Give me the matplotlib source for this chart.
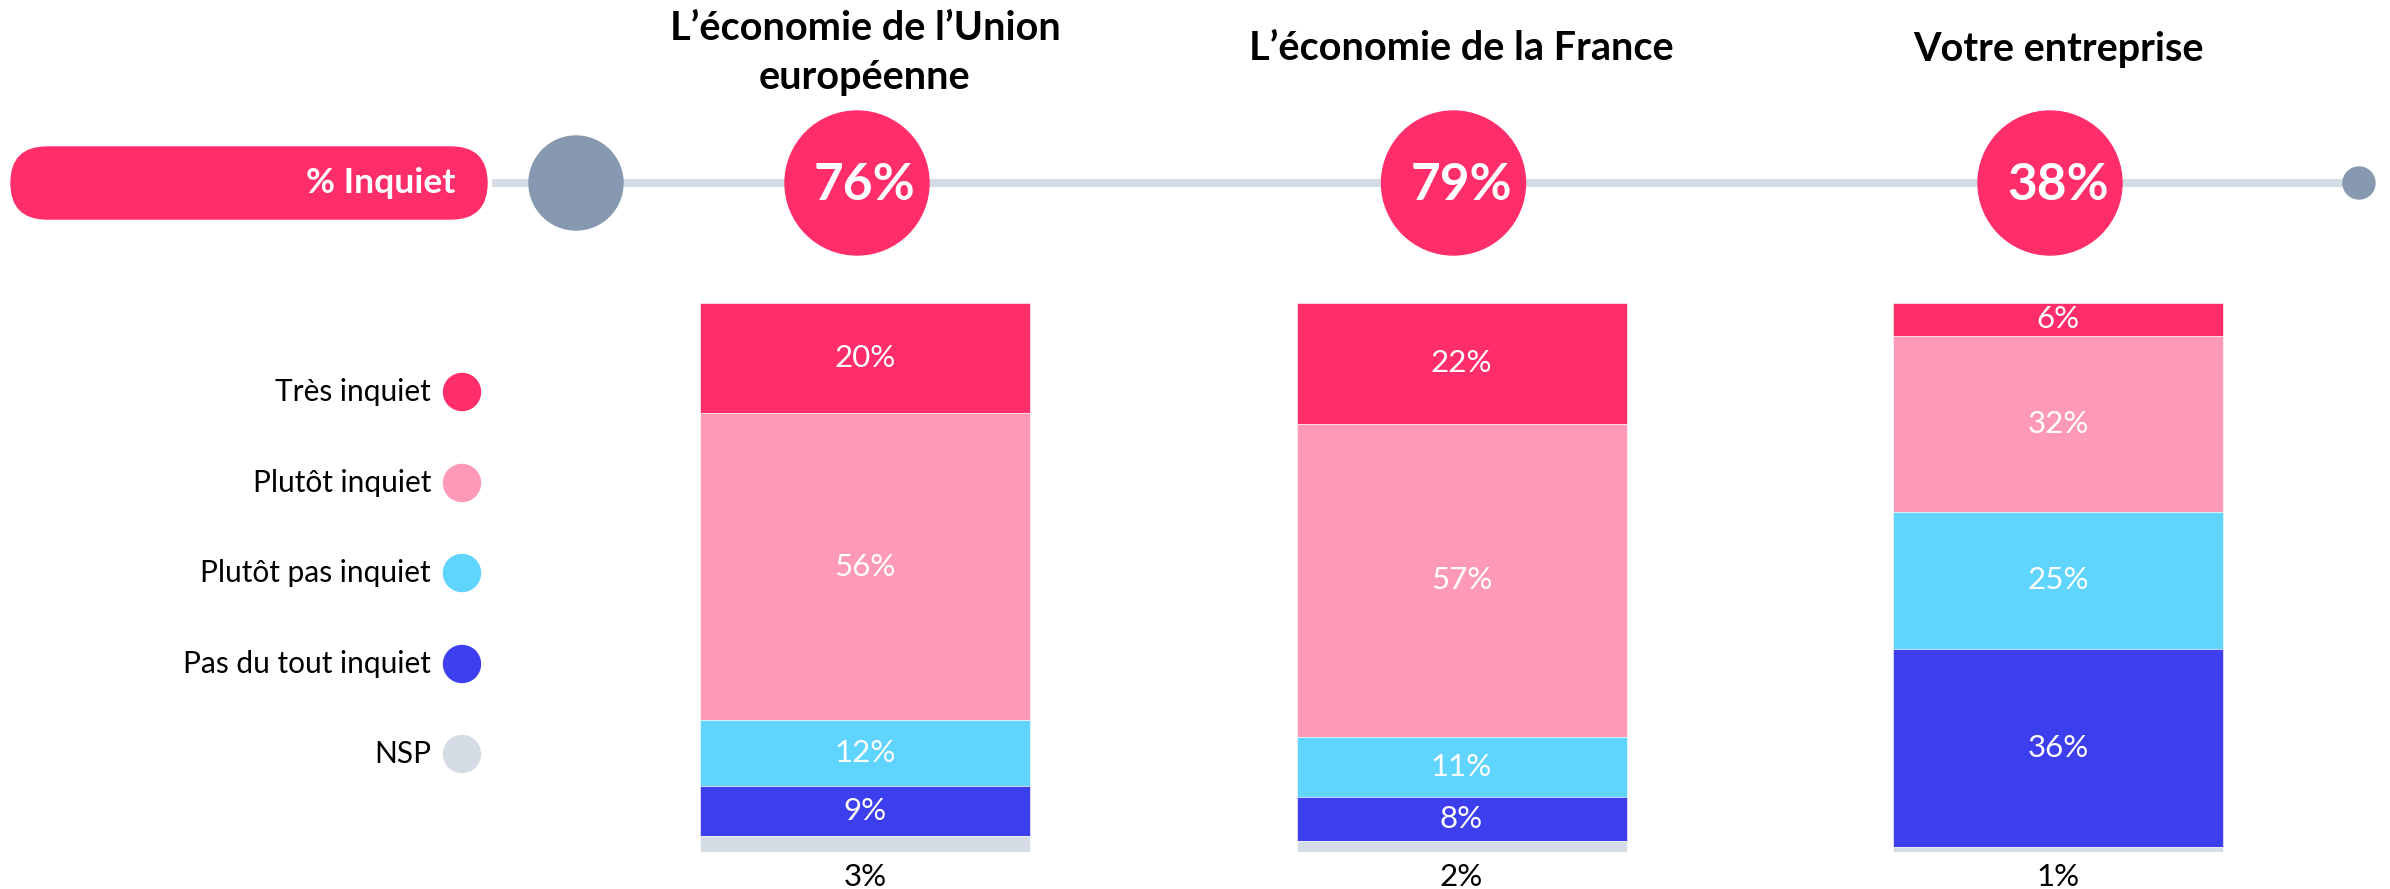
import matplotlib
matplotlib.use("Agg")
import matplotlib.pyplot as plt
from matplotlib.patches import Circle, FancyBboxPatch
import numpy as np

plt.rcParams['font.family'] = ['Lato', 'DejaVu Sans']

# ---- data ----
categories = ["L’économie de l’Union\neuropéenne", "L’économie de la France", "Votre entreprise"]
series_names = ["Très inquiet", "Plutôt inquiet", "Plutôt pas inquiet", "Pas du tout inquiet", "NSP"]
tres_inquiet = [20, 22, 6]
plutot_inquiet = [56, 57, 32]
plutot_pas_inquiet = [12, 11, 25]
pas_du_tout_inquiet = [9, 8, 36]
nsp = [3, 2, 1]
pct_inquiet = [76, 79, 38]
summary_label = "% Inquiet"

# ---- style ----
colors = ["#FF2E6B", "#FF9AB6", "#5FD4FF", "#3D3FEE", "#D5DCE6"]
W, H = 2390, 889
fig = plt.figure(figsize=(W / 100, H / 100), dpi=100)

# bars axes (y in percent, inverted so stacking goes top-down)
ax = fig.add_axes([0, 1 - 852 / H, 1, 549 / H])
step = 596.5
x0 = -865 / step
ax.set_xlim(x0, x0 + W / step)
ax.set_ylim(100, 0)
ax.axis('off')

xs = np.arange(len(categories))
series = [tres_inquiet, plutot_inquiet, plutot_pas_inquiet, pas_du_tout_inquiet, nsp]
bottom = np.zeros(len(categories))
for k, (vals, col) in enumerate(zip(series, colors)):
    vals = np.array(vals, dtype=float)
    ax.bar(xs, vals, bottom=bottom, width=330 / step, color=col, edgecolor='white',
           linewidth=0.4, zorder=2)
    for i, v in enumerate(vals):
        if k < 4:
            ax.text(xs[i], bottom[i] + v / 2, f"{int(v)}%", ha='center', va='center',
                    color='white', fontsize=22.5, zorder=3)
        else:
            ax.annotate(f"{int(v)}%", xy=(xs[i], bottom[i] + v), xytext=(0, -18),
                        textcoords='offset points', ha='center', va='center',
                        color='black', fontsize=22.5, annotation_clip=False)
    bottom += vals

# overlay axes in pixel coordinates
ov = fig.add_axes([0, 0, 1, 1], zorder=5)
ov.set_xlim(0, W)
ov.set_ylim(H, 0)
ov.axis('off')

line_y = 183
ov.plot([492, 2358], [line_y, line_y], color="#D6DCE5", lw=5.8, solid_capstyle='butt', zorder=1)
ov.add_patch(Circle((576, line_y), 47, color="#8699B0", zorder=2))
ov.add_patch(Circle((2359, line_y), 16, color="#8699B0", zorder=2))

pill = FancyBboxPatch((11, line_y - 36), 476, 72, boxstyle="round,pad=0,rounding_size=36",
                      color=colors[0], zorder=2)
ov.add_patch(pill)
ov.text(455, line_y, summary_label, ha='right', va='center', color='white',
        fontsize=25.5, fontweight='bold', zorder=3)

# centers of bars in pixel space
fig.canvas.draw()
inv = ov.transData.inverted()
for i, (cat, p) in enumerate(zip(categories, pct_inquiet)):
    px = ax.transData.transform((xs[i], 0))
    cx = inv.transform(px)[0]
    ov.add_patch(Circle((cx - 8, line_y), 72, color=colors[0], zorder=2))
    ov.text(cx, line_y + 2, f"{p}%", ha='center', va='center', color='white',
            fontsize=37, fontweight='bold', zorder=3)
    if "\n" in cat:
        ov.text(cx, 53, cat, ha='center', va='center', fontsize=28.5, fontweight='bold',
                color='black', linespacing=1.42)
    else:
        ov.text(cx, 49, cat, ha='center', va='center', fontsize=28.5, fontweight='bold',
                color='black')

# legend
leg_y = [392, 483, 573, 664, 754]
for name, col, y in zip(series_names, colors, leg_y):
    ov.add_patch(Circle((462, y), 18.5, color=col, zorder=2))
    ov.text(431, y, name, ha='right', va='center', fontsize=21.5, color='black')

fig.savefig("out.png", dpi=100)
